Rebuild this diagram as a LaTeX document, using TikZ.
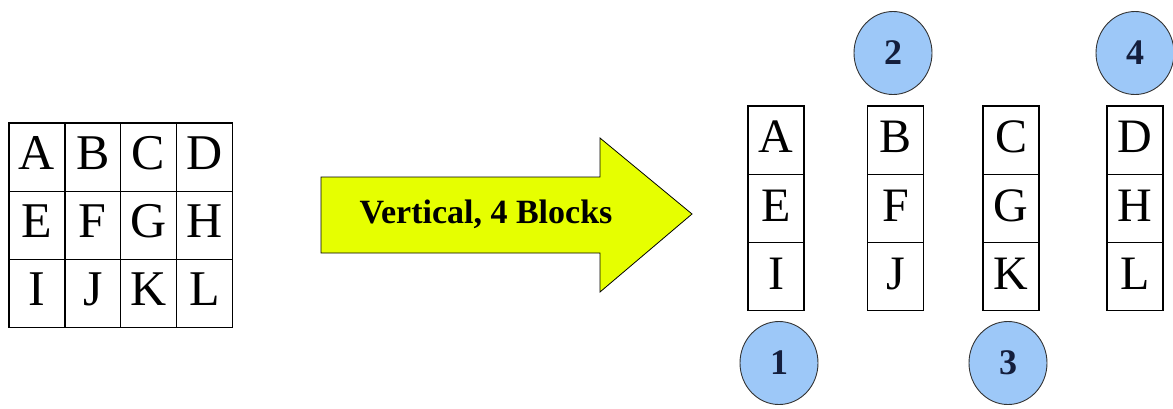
\documentclass[tikz,border=0pt]{standalone}
\usepackage{fontspec}
\setmainfont{Liberation Serif}
\usetikzlibrary{positioning}
\usetikzlibrary{shapes.geometric}
\definecolor{arrow-yellow}{RGB}{230,255,0}
\definecolor{block-blue}{RGB}{157,200,248}
\definecolor{num-navy}{RGB}{20,30,60}
\tikzset{
  cell/.style={draw, line width=1.3pt, minimum width=56pt, minimum height=68.3pt,
    inner sep=0pt, text depth=8pt, font=\fontsize{50}{50}\selectfont},
  blocknum/.style={ellipse, draw=black!80, line width=0.9pt, fill=block-blue,
    minimum width=78pt, minimum height=83pt, inner sep=0pt,
    font=\fontsize{36}{36}\selectfont\bfseries, text=num-navy},
}

\begin{document}
\begin{tikzpicture}[x=1pt, y=-1pt]
    \useasboundingbox (0,0) rectangle (1173,408);
    % the 3x4 matrix
    \foreach \ltr [count=\i from 0] in {A,B,C,D,E,F,G,H,I,J,K,L} {
        \pgfmathtruncatemacro\c{mod(\i,4)}
        \pgfmathtruncatemacro\r{div(\i,4)}
        \node[cell] (g-\ltr) at ({37+55.8*\c},{157+68.3*\r}) {\ltr};
    }
    % big arrow
    \draw[line width=0.8pt, fill=arrow-yellow]
        (321,177) -- (600,177) -- (600,138) -- (692,214) -- (600,292)
        -- (600,253) -- (321,253) -- cycle;
    \node[anchor=base, inner sep=0pt, font=\fontsize{34}{34}\selectfont\bfseries]
        (split) at (486,223) {Vertical, 4 Blocks};
    % the four column blocks
    \foreach \ltr/\xc/\yc in {A/776/140, E/776/208.3, I/776/276.6,
                              B/895.5/140, F/895.5/208.3, J/895.5/276.6,
                              C/1011/140, G/1011/208.3, K/1011/276.6,
                              D/1135/140, H/1135/208.3, L/1135/276.6}
        \node[cell, text depth=6pt, font=\fontsize{48}{48}\selectfont] (v-\ltr) at (\xc,\yc) {\ltr};
    \node[blocknum] (n1) at (779,363) {1};
    \node[blocknum] (n2) at (893,53) {2};
    \node[blocknum] (n3) at (1008,363) {3};
    \node[blocknum] (n4) at (1135,53) {4};
\end{tikzpicture}
\end{document}
